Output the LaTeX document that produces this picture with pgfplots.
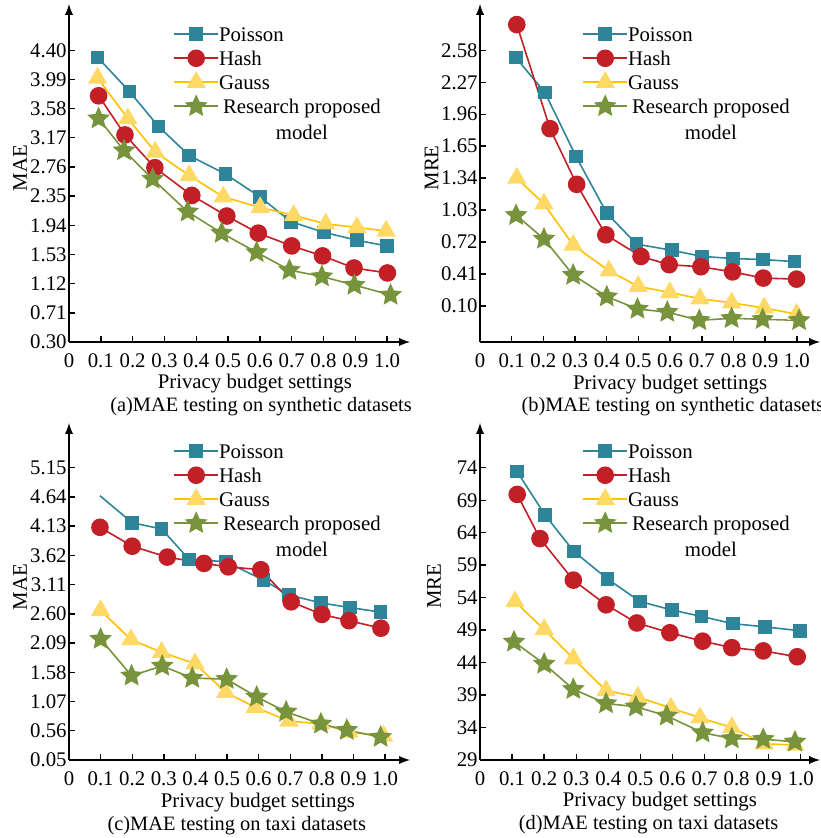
\documentclass[border=0pt]{standalone}
\usepackage{fontspec}
\setmainfont{Liberation Serif}
\usepackage{calc}
\usepackage{pgfplots}
\pgfplotsset{compat=1.18}
\definecolor{cpois}{HTML}{2E8599}
\definecolor{chash}{HTML}{C21F27}
\definecolor{cgaussl}{HTML}{FFC000}
\definecolor{cgaussf}{HTML}{FFD966}
\definecolor{cstar}{HTML}{77933C}
\pgfdeclareplotmark{fstar}{%
 \pgfpathmoveto{\pgfpointpolar{90}{\pgfplotmarksize}}%
 \pgfpathlineto{\pgfpointpolar{126}{0.47\pgfplotmarksize}}%
 \pgfpathlineto{\pgfpointpolar{162}{\pgfplotmarksize}}%
 \pgfpathlineto{\pgfpointpolar{198}{0.47\pgfplotmarksize}}%
 \pgfpathlineto{\pgfpointpolar{234}{\pgfplotmarksize}}%
 \pgfpathlineto{\pgfpointpolar{270}{0.47\pgfplotmarksize}}%
 \pgfpathlineto{\pgfpointpolar{306}{\pgfplotmarksize}}%
 \pgfpathlineto{\pgfpointpolar{342}{0.47\pgfplotmarksize}}%
 \pgfpathlineto{\pgfpointpolar{18}{\pgfplotmarksize}}%
 \pgfpathlineto{\pgfpointpolar{54}{0.47\pgfplotmarksize}}%
 \pgfpathclose
 \pgfusepathqfillstroke}
\tikzset{lab/.style={inner sep=0pt}, capt/.style={inner sep=0pt, anchor=base west, font=\fontsize{10.2}{12.5}\selectfont}}
\pgfplotsset{
 every axis/.append style={font=\fontsize{10.4}{12.5}\selectfont},
 panel/.style={
  scale only axis, axis lines=left,
  axis line style={line width=0.9pt, -latex},
  tick align=inside, major tick length=2.8pt,
  tick style={line width=0.7pt, black},
  xmin=0, clip=false,
  xtick={0,0.1,0.2,0.3,0.4,0.5,0.6,0.7,0.8,0.9,1.0},
  xticklabels={0,0.1,0.2,0.3,0.4,0.5,0.6,0.7,0.8,0.9,1.0},
  xticklabel style={inner ysep=5.5pt, inner xsep=0pt},
  /pgf/number format/assume math mode=true,
  yticklabel style={/pgf/number format/fixed, /pgf/number format/fixed zerofill,
    /pgf/number format/precision=2, inner xsep=1pt},
  legend cell align=left,
  legend style={draw=none, fill=none, anchor=north west, inner sep=0pt,
    row sep=0pt, column sep=0pt,
    nodes={inner sep=0pt, text height=9.5pt, text depth=2.5pt}},
  legend image code/.code={\draw[mark repeat=2,mark phase=2] plot coordinates {(0pt,0pt) (11pt,0pt) (22pt,0pt)};},
 },
 pois/.style={color=cpois, line width=0.8pt, mark=square*, mark size=3pt, mark options={solid, fill=cpois, draw=cpois}},
 hash/.style={color=chash, line width=0.8pt, mark=*, mark size=4pt, mark options={solid, fill=chash, draw=chash}},
 gauss/.style={color=cgaussl, line width=0.8pt, mark=triangle*, mark size=4.8pt, mark options={solid, fill=cgaussf, draw=cgaussf}},
 rstar/.style={color=cstar, line width=0.8pt, mark=fstar, mark size=5pt, mark options={solid, fill=cstar, draw=cstar}},
}
\newcommand{\legendall}{%
 \addlegendentry{Poisson}\addlegendentry{Hash}\addlegendentry{Gauss}%
 \addlegendentry{\hspace*{2pt}Research proposed}%
 \addlegendimage{empty legend}%
 \addlegendentry{\hspace*{2pt}\makebox[\widthof{Research proposed}]{\raisebox{-1.2pt}{model}}}}
\begin{document}
\begin{tikzpicture}[font=\fontsize{10.4}{12.5}\selectfont]
\useasboundingbox (0,0) rectangle (410pt,419pt);
% (a)
\begin{axis}[panel, at={(34.5pt,248pt)}, anchor=south west,
  width=170.5pt, height=169pt, xmax=1.072, ymin=0.30, ymax=5.05,
  ytick={0.30,0.71,1.12,1.53,1.94,2.35,2.76,3.17,3.58,3.99,4.40},
  legend style={at={(rel axis cs:0.305,0.947)}}]
\addplot[pois] coordinates {(0.090,4.30) (0.190,3.82) (0.281,3.33) (0.378,2.92) (0.492,2.66) (0.600,2.34) (0.698,1.99) (0.802,1.84) (0.905,1.73) (0.999,1.65)};
\addplot[hash] coordinates {(0.093,3.76) (0.176,3.21) (0.270,2.75) (0.386,2.36) (0.496,2.07) (0.595,1.83) (0.700,1.65) (0.797,1.51) (0.896,1.34) (1.001,1.27)};
\addplot[gauss] coordinates {(0.090,4.01) (0.185,3.44) (0.271,2.97) (0.378,2.64) (0.485,2.34) (0.601,2.19) (0.706,2.08) (0.807,1.96) (0.905,1.91) (0.997,1.86)};
\addplot[rstar] coordinates {(0.093,3.44) (0.173,2.99) (0.263,2.59) (0.373,2.13) (0.480,1.83) (0.590,1.56) (0.693,1.31) (0.795,1.22) (0.897,1.10) (1.011,0.96)};
\legendall
\node[lab, rotate=90, yshift=24.5pt] at (rel axis cs:0,0.515) {MAE};
\node[lab, anchor=base] at (rel axis cs:0.545,0) [yshift=-23.5pt] {Privacy budget settings};
\node[capt] at (rel axis cs:0.12,0) [yshift=-34.8pt] {(a)MAE testing on synthetic datasets};
\end{axis}
% (b)
\begin{axis}[panel, at={(240pt,248pt)}, anchor=south west,
  width=170pt, height=169pt, xmax=1.073, ymin=-0.25, ymax=3.03,
  ytick={0.10,0.41,0.72,1.03,1.34,1.65,1.96,2.27,2.58},
  legend style={at={(rel axis cs:0.30,0.947)}}]
\addplot[pois] coordinates {(0.113,2.51) (0.205,2.17) (0.303,1.55) (0.400,1.00) (0.494,0.70) (0.605,0.64) (0.701,0.58) (0.799,0.56) (0.894,0.55) (0.992,0.53)};
\addplot[hash] coordinates {(0.116,2.83) (0.221,1.82) (0.305,1.28) (0.397,0.79) (0.508,0.58) (0.597,0.50) (0.697,0.48) (0.797,0.43) (0.894,0.37) (0.999,0.36)};
\addplot[gauss] coordinates {(0.116,1.34) (0.202,1.09) (0.294,0.69) (0.407,0.44) (0.499,0.29) (0.599,0.23) (0.694,0.17) (0.794,0.13) (0.897,0.08) (0.999,0.02)};
\addplot[rstar] coordinates {(0.114,0.98) (0.202,0.75) (0.294,0.40) (0.400,0.19) (0.497,0.07) (0.591,0.04) (0.692,-0.04) (0.794,-0.02) (0.892,-0.03) (1.007,-0.04)};
\legendall
\node[lab, rotate=90, yshift=24.2pt] at (rel axis cs:0,0.515) {MRE};
\node[lab, anchor=base] at (rel axis cs:0.559,0) [yshift=-24pt] {Privacy budget settings};
\node[capt] at (rel axis cs:0.121,0) [yshift=-34.8pt] {(b)MAE testing on synthetic datasets};
\end{axis}
% (c)
\begin{axis}[panel, at={(34.5pt,39pt)}, anchor=south west,
  width=170.5pt, height=168.5pt, xmax=1.079, ymin=0.05, ymax=5.93,
  ytick={0.05,0.56,1.07,1.58,2.09,2.60,3.11,3.62,4.13,4.64,5.15},
  legend style={at={(rel axis cs:0.305,0.953)}}]
\addplot[pois, mark indices={2,3,4,5,6,7,8,9,10},
  legend image code/.code={\draw[mark indices={2}] plot coordinates {(0pt,0pt) (11pt,0pt) (22pt,0pt)};}]
  coordinates {(0.098,4.66) (0.200,4.19) (0.293,4.08) (0.380,3.55) (0.496,3.51) (0.615,3.19) (0.696,2.93) (0.797,2.79) (0.889,2.71) (0.986,2.63)};
\addplot[hash] coordinates {(0.098,4.11) (0.200,3.78) (0.311,3.59) (0.427,3.48) (0.504,3.42) (0.607,3.37) (0.703,2.81) (0.800,2.59) (0.886,2.48) (0.987,2.35)};
\addplot[gauss] coordinates {(0.100,2.66) (0.196,2.15) (0.293,1.93) (0.399,1.73) (0.496,1.23) (0.589,0.97) (0.696,0.73) (0.797,0.68) (0.886,0.54) (0.995,0.47)};
\addplot[rstar] coordinates {(0.100,2.16) (0.198,1.52) (0.295,1.69) (0.390,1.48) (0.499,1.46) (0.594,1.15) (0.687,0.89) (0.797,0.68) (0.879,0.57) (0.986,0.45)};
\legendall
\node[lab, rotate=90, yshift=24.5pt] at (rel axis cs:0,0.513) {MAE};
\node[lab, anchor=base] at (rel axis cs:0.554,0) [yshift=-23.8pt] {Privacy budget settings};
\node[capt] at (rel axis cs:0.112,0) [yshift=-35pt] {(c)MAE testing on taxi datasets};
\end{axis}
% (d)
\begin{axis}[panel, at={(240pt,39pt)}, anchor=south west,
  width=170pt, height=168.5pt, xmax=1.06, ymin=29, ymax=80.9,
  ytick={29,34,39,44,49,54,59,64,69,74},
  yticklabel style={/pgf/number format/precision=0},
  legend style={at={(rel axis cs:0.30,0.953)}}]
\addplot[pois] coordinates {(0.116,73.4) (0.203,66.7) (0.293,61.1) (0.397,56.9) (0.499,53.4) (0.598,52.1) (0.691,51.1) (0.788,50.0) (0.889,49.5) (0.998,48.9)};
\addplot[hash] coordinates {(0.116,69.9) (0.187,63.1) (0.291,56.7) (0.393,52.9) (0.489,50.1) (0.592,48.6) (0.694,47.3) (0.785,46.3) (0.883,45.8) (0.989,44.9)};
\addplot[gauss] coordinates {(0.109,53.4) (0.200,49.1) (0.291,44.6) (0.393,39.7) (0.492,38.7) (0.595,37.0) (0.686,35.5) (0.785,34.0) (0.886,31.5) (0.982,31.3)};
\addplot[rstar] coordinates {(0.106,47.2) (0.200,43.8) (0.291,39.9) (0.393,37.7) (0.486,37.2) (0.582,35.8) (0.694,33.2) (0.785,32.3) (0.883,32.2) (0.982,31.8)};
\legendall
\node[lab, rotate=90, yshift=23pt] at (rel axis cs:0,0.516) {MRE};
\node[lab, anchor=base] at (rel axis cs:0.529,0) [yshift=-23.3pt] {Privacy budget settings};
\node[capt] at (rel axis cs:0.113,0) [yshift=-34.5pt] {(d)MAE testing on taxi datasets};
\end{axis}
\end{tikzpicture}
\end{document}
